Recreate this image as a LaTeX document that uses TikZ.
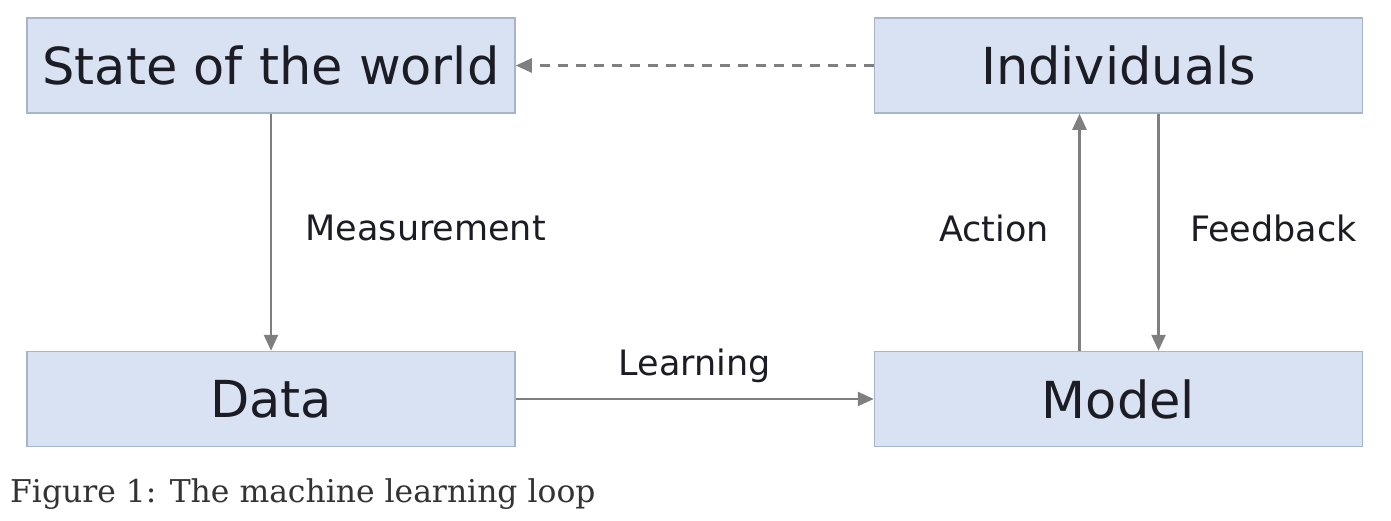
\documentclass[tikz,border=0pt]{standalone}
\usepackage{fontspec}
\setmainfont{DejaVu Sans}
\newfontfamily\captionfont{DejaVu Serif}
\usetikzlibrary{positioning,arrows.meta}
\definecolor{boxfill}{HTML}{D9E2F3}
\definecolor{boxline}{HTML}{A8B4CC}
\definecolor{arrowgray}{HTML}{7F7F7F}
\definecolor{inkdark}{HTML}{1C1C24}
\tikzset{
    loopbox/.style={
        draw=boxline,
        line width=1.5pt,
        fill=boxfill,
        minimum width=488pt,
        minimum height=95pt,
        inner sep=0pt,
        text=inkdark,
        font=\fontsize{51}{60}\selectfont
    },
    looparrow/.style={
        draw=arrowgray,
        line width=2.5pt,
        -{Triangle[length=16pt,width=14pt]}
    },
    looplabel/.style={
        text=inkdark,
        font=\fontsize{35}{42}\selectfont
    }
}
\begin{document}
\begin{tikzpicture}[x=1pt,y=-1pt]
        \useasboundingbox (0,0) rectangle (1391,520);
        \node[loopbox] (state) at (271,65.5) {State of the world};
        \node[loopbox, right = 358pt of state] (indiv) {Individuals};
        \node[loopbox, below = 237pt of state] (data) {Data};
        \node[loopbox, right = 358pt of data] (model) {Model};

        \draw[looparrow] (state) -- node[midway, right = 30pt, yshift=4pt, looplabel] {Measurement} (data);
        \draw[looparrow] (data) -- node[midway, above = 12pt, looplabel] {Learning} (model);
        \draw[looparrow] ([xshift=-39pt]model.north) -- node[midway, left = 26pt, yshift=4pt, looplabel] {Action} ([xshift=-39pt]indiv.south);
        \draw[looparrow] ([xshift=40pt]indiv.south) -- node[midway, right = 27pt, yshift=4pt, looplabel] {Feedback} ([xshift=40pt]model.north);
        \draw[looparrow, dash pattern=on 10pt off 8pt] (indiv) -- (state);

        \node[anchor=base west, inner sep=0pt, text=black!80, font=\captionfont\fontsize{31.4}{38}\selectfont] (caption) at (10,502) {Figure 1: The machine learning loop};
\end{tikzpicture}
\end{document}
